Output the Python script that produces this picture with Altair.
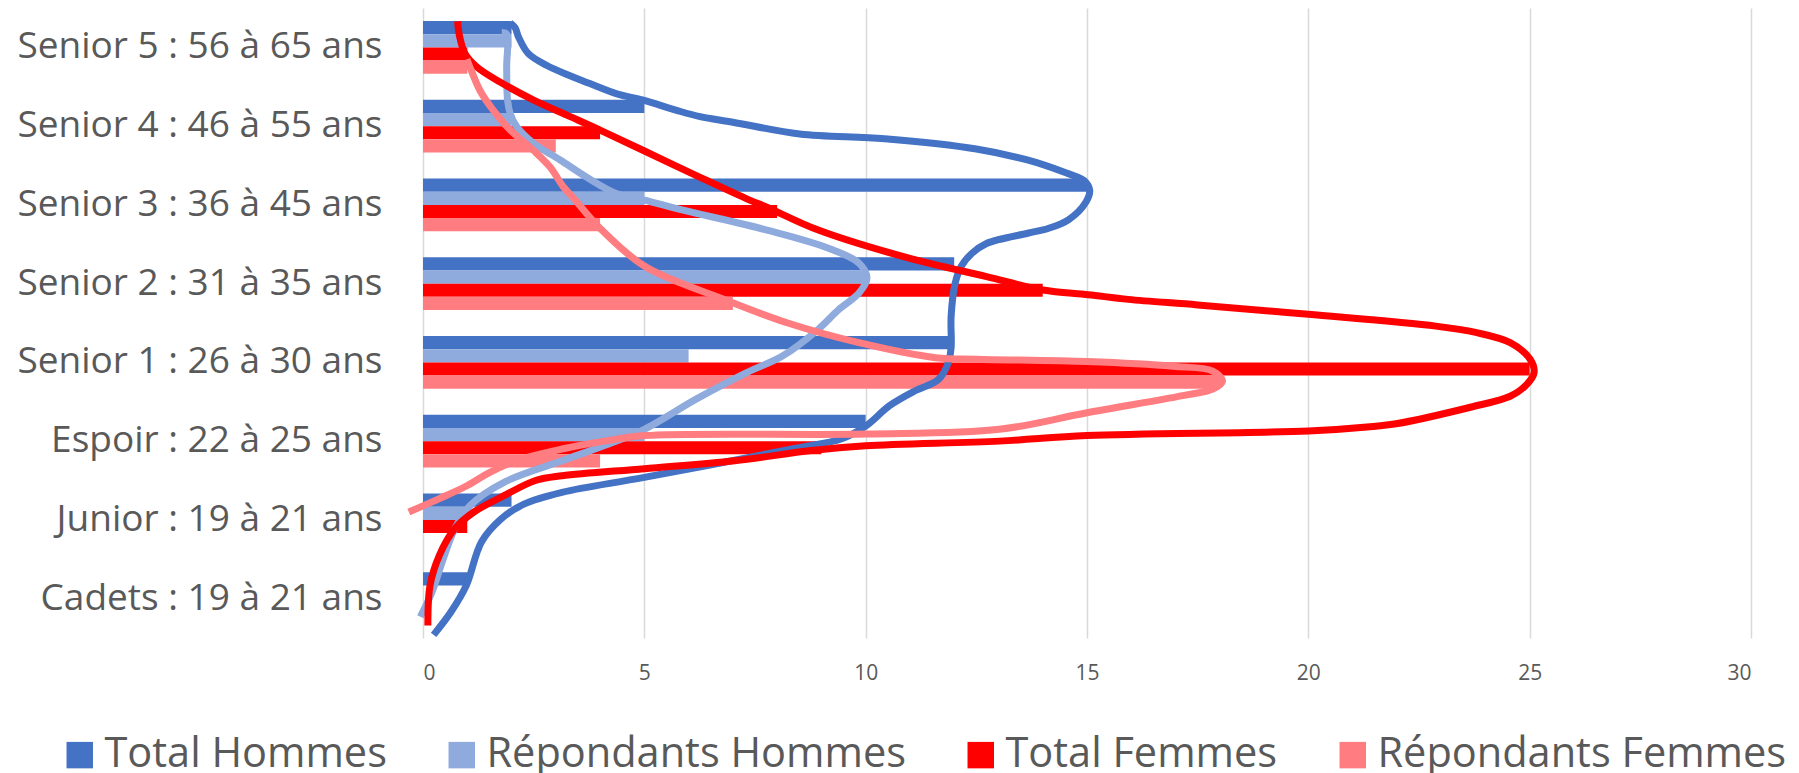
import altair as alt
import pandas as pd

categories = [
    "Senior 5 : 56 à 65 ans",
    "Senior 4 : 46 à 55 ans",
    "Senior 3 : 36 à 45 ans",
    "Senior 2 : 31 à 35 ans",
    "Senior 1 : 26 à 30 ans",
    "Espoir : 22 à 25 ans",
    "Junior : 19 à 21 ans",
    "Cadets : 19 à 21 ans",
]
series = ["Total Hommes", "Répondants Hommes", "Total Femmes", "Répondants Femmes"]
colors = ["#4472C4", "#8FAADC", "#FF0000", "#FF7C80"]

total_hommes = [2, 5, 15, 12, 12, 10, 2, 1]
repondants_hommes = [2, 2, 5, 10, 6, 5, 1, 0]
total_femmes = [1, 4, 8, 14, 25, 9, 1, 0]
repondants_femmes = [1, 3, 4, 7, 18, 4, 0, 0]

x_ticks = [0, 5, 10, 15, 20, 25, 30]

# Hand-drawn curves: value (x) and position in category units (0 = top category)
curve_th_value = [1.97, 2.08, 2.16, 2.38, 2.8, 3.32, 3.77, 4.38, 4.98, 5.73, 6.26, 7.0, 8.51,
                  10.43, 12.5, 13.65, 14.46, 14.93, 15.06, 14.98, 14.58, 14.12, 13.66, 12.73,
                  12.39, 12.16, 12.02, 11.93, 11.93, 11.87, 11.64, 11.12, 10.54, 10.0, 9.46,
                  8.34, 5.0, 3.14, 2.28, 1.76, 1.32, 0.98, 0.63, 0.24]
curve_th_pos = [-0.31, -0.25, -0.13, 0.08, 0.23, 0.36, 0.46, 0.59, 0.67, 0.8, 0.88, 0.95, 1.1,
                1.16, 1.29, 1.43, 1.58, 1.69, 1.81, 1.96, 2.19, 2.3, 2.36, 2.49,
                2.62, 2.78, 3.0, 3.42, 3.8, 4.0, 4.22, 4.36, 4.55, 4.81, 4.97,
                5.1, 5.46, 5.65, 5.8, 5.99, 6.28, 6.83, 7.17, 7.46]

curve_rh_value = [1.78, 1.89, 1.89, 1.91, 1.97, 2.12, 2.5, 3.1, 3.7, 4.38, 5.0, 5.9, 7.77,
                  9.16, 9.85, 10.03, 9.85, 9.39, 8.93, 8.12, 7.31, 6.16, 5.0, 4.08, 3.14,
                  1.84, 1.06, 0.72, 0.46, 0.2, -0.06]
curve_rh_pos = [-0.19, -0.17, 0.25, 0.67, 0.84, 1.01, 1.22, 1.43, 1.65, 1.86, 1.94, 2.07, 2.32,
                2.55, 2.74, 2.93, 3.12, 3.33, 3.58, 3.92, 4.13, 4.47, 4.85, 5.06, 5.25,
                5.52, 5.82, 6.11, 6.49, 6.92, 7.23]

curve_tf_value = [0.78, 0.83, 0.95, 1.22, 1.74, 2.5, 3.25, 4.0, 4.98, 6.26, 7.38, 7.77, 8.93,
                  11.0, 12.73, 14.0, 15.03, 15.93, 17.5, 20.0, 22.88, 23.78, 24.56, 25.01,
                  25.1, 24.9, 24.56, 23.66, 21.98, 21.53, 20.0, 15.0, 13.02, 10.0, 8.77,
                  7.04, 5.0, 3.14, 2.54, 1.84, 1.15, 0.72, 0.37, 0.16, 0.11]
curve_tf_pos = [-0.33, -0.13, 0.08, 0.25, 0.44, 0.67, 0.86, 1.05, 1.31, 1.65, 1.94, 2.03, 2.32,
                2.68, 2.91, 3.08, 3.14, 3.2, 3.27, 3.39, 3.54, 3.62, 3.75, 3.96,
                4.13, 4.3, 4.43, 4.57, 4.78, 4.81, 4.87, 4.93, 5.0, 5.06, 5.12,
                5.25, 5.35, 5.44, 5.5, 5.69, 5.9, 6.11, 6.45, 6.83, 7.34]

curve_rf_value = [0.99, 1.11, 1.29, 1.59, 1.97, 2.5, 2.87, 3.17, 3.44, 3.97, 5.01, 6.85, 8.24,
                  9.85, 11.58, 12.5, 15.0, 16.94, 17.84, 18.06, 17.84, 17.28, 15.0, 13.02,
                  10.0, 5.0, 4.1, 3.14, 2.1, 1.5, 0.98, 0.37, -0.32]
curve_rf_pos = [0.15, 0.32, 0.55, 0.8, 1.05, 1.31, 1.52, 1.77, 1.94, 2.28, 2.78, 3.21, 3.5,
                3.75, 3.94, 3.96, 3.99, 4.05, 4.11, 4.24, 4.34, 4.41, 4.64, 4.85,
                4.91, 4.93, 5.0, 5.1, 5.25, 5.4, 5.57, 5.73, 5.9]

FONT = "Open Sans"
GREY = "#595959"

bar_rows = []
for s, vals in zip(series, [total_hommes, repondants_hommes, total_femmes, repondants_femmes]):
    for c, v in zip(categories, vals):
        bar_rows.append({"categorie": c, "serie": s, "valeur": v})
bar_df = pd.DataFrame(bar_rows)

x_enc = alt.X(
    "valeur:Q",
    scale=alt.Scale(domain=[0, 30], nice=False, zero=False),
    axis=alt.Axis(
        values=x_ticks, title=None, grid=True, gridColor="#D9D9D9", gridWidth=1.5,
        ticks=False, domain=False, labelFontSize=21, labelFont=FONT,
        labelColor=GREY, labelPadding=24,
    ),
)

bars = alt.Chart(bar_df).mark_bar().encode(
    y=alt.Y(
        "categorie:N", sort=categories,
        scale=alt.Scale(paddingInner=0.33, paddingOuter=0.165),
        axis=alt.Axis(title=None, labelFontSize=37, labelFont=FONT, labelColor=GREY,
                      labelPadding=41, ticks=False, domain=False, grid=False, labelLimit=600),
    ),
    yOffset=alt.YOffset("serie:N", sort=series),
    x=x_enc,
    color=alt.Color(
        "serie:N", sort=series,
        scale=alt.Scale(domain=series, range=colors),
        legend=alt.Legend(
            title=None, orient="none", legendX=-364, legendY=726, direction="horizontal",
            columns=4, symbolType="square", symbolSize=700, symbolStrokeWidth=0,
            symbolOpacity=1, labelFontSize=41.5, labelFont=FONT, labelColor=GREY,
            columnPadding=54, labelOffset=4, labelLimit=600, padding=0,
        ),
    ),
)

line_layers = []
for s, col, xs, ys in zip(
    series, colors,
    [curve_th_value, curve_rh_value, curve_tf_value, curve_rf_value],
    [curve_th_pos, curve_rh_pos, curve_tf_pos, curve_rf_pos],
):
    df = pd.DataFrame({"valeur": xs, "pos": ys, "ordre": list(range(len(xs)))})
    line_layers.append(
        alt.Chart(df).mark_line(interpolate="catmull-rom", strokeWidth=7, color=col).encode(
            x=alt.X("valeur:Q"),
            y=alt.Y("pos:Q", scale=alt.Scale(domain=[-0.5, 7.5], reverse=True, nice=False, zero=False),
                    axis=None),
            order="ordre:Q",
        )
    )

chart = alt.layer(bars, *line_layers).resolve_scale(y="independent").properties(
    width=1328, height=630,
    padding={"left": 415, "top": 0, "right": 40, "bottom": 140},
    autosize=alt.AutoSizeParams(type="none"),
).configure_view(stroke=None)

chart.save("out.html", embed_options={"renderer": "svg", "actions": False})
